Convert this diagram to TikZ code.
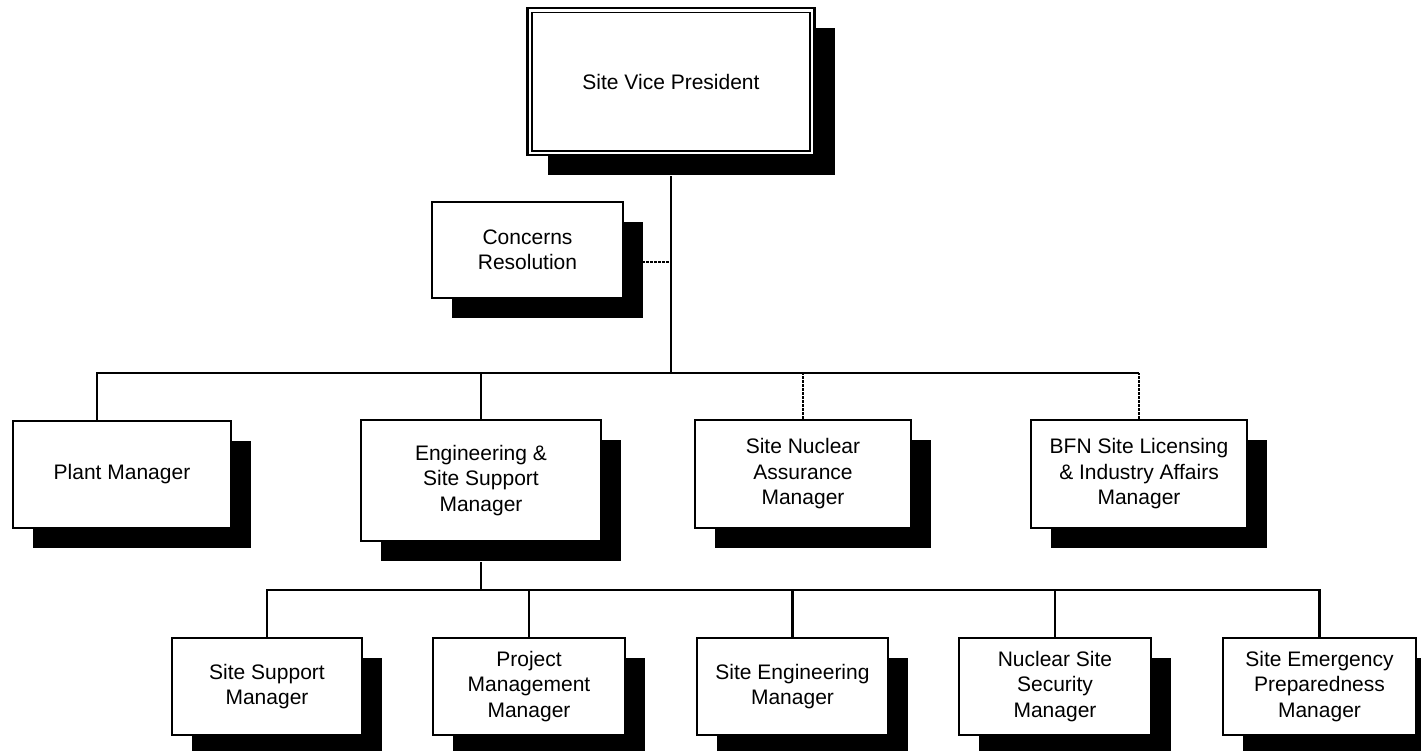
\documentclass[tikz,border=0pt]{standalone}
\usepackage{fontspec}
\setmainfont{Liberation Sans}
\usetikzlibrary{shadows}
\tikzset{
  orgbox/.style={draw=black, line width=2.2pt, fill=white, align=center, inner sep=2pt,
    font=\fontsize{21}{25.5}\selectfont,
    drop shadow={shadow xshift=20pt, shadow yshift=-20pt, opacity=1, fill=black, draw=none}},
  conn/.style={draw=black, line width=2.2pt},
  dashline/.style={draw=black, line width=1.8pt, dash pattern=on 2.5pt off 1.5pt},
}
\begin{document}
\begin{tikzpicture}[x=1pt, y=-1pt]
\useasboundingbox (0,0) rectangle (1421,750);
\clip (0,0) rectangle (1421,750);
\fill[white] (0,0) rectangle (1421,750);

% nodes
\node[orgbox, minimum width=287pt, minimum height=147pt] (vp) at (671,81.5) {Site Vice President};
\draw[line width=1.8pt] ([shift={(5.5pt,-5.5pt)}]vp.north west) rectangle ([shift={(-5.5pt,5.5pt)}]vp.south east);

\node[orgbox, minimum width=191pt, minimum height=96pt] (cr) at (527.5,250) {Concerns\\Resolution};

\node[orgbox, minimum width=218pt, minimum height=107pt] (pm) at (122,474.5) {Plant Manager};
\node[orgbox, minimum width=240pt, minimum height=121pt] (eng) at (481,480.5) {Engineering \&\\Site Support\\Manager};
\node[orgbox, minimum width=216pt, minimum height=108pt] (sna) at (803,474) {Site Nuclear\\Assurance\\Manager};
\node[orgbox, minimum width=216pt, minimum height=108pt] (bfn) at (1139,474) {BFN Site Licensing\\\& Industry Affairs\\Manager};

\node[orgbox, minimum width=190pt, minimum height=97pt] (ss) at (267,686.5) {Site Support\\Manager};
\node[orgbox, minimum width=192pt, minimum height=97pt] (prj) at (529,686.5) {Project\\Management\\Manager};
\node[orgbox, minimum width=191pt, minimum height=97pt] (se) at (792.5,686.5) {Site Engineering\\Manager};
\node[orgbox, minimum width=192pt, minimum height=97pt] (nss) at (1055,686.5) {Nuclear Site\\Security\\Manager};
\node[orgbox, minimum width=193pt, minimum height=97pt] (sep) at (1319.5,686.5) {Site Emergency\\Preparedness\\Manager};

% bus coordinates
\coordinate (b1) at (671,373);
\coordinate (b2) at (481,590);
\coordinate (crlink) at (642,262);

% level 1 connectors
\draw[conn] ([yshift=-20pt]vp.south) -- (b1);
\draw[dashline] (crlink) -- (crlink -| b1);
\draw[conn] ([xshift=-25pt]pm.north) |- (b1);
\draw[conn] (b1) -- (bfn.north |- b1);
\draw[conn] (eng.north) -- (eng.north |- b1);
\draw[dashline] (sna.north) -- (sna.north |- b1);
\draw[dashline] (bfn.north) -- (bfn.north |- b1);

% level 2 connectors
\draw[conn] ([yshift=-20pt]eng.south) -- (b2);
\draw[conn] (ss.north) |- (sep.north |- b2) -- (sep.north);
\draw[conn] (prj.north) -- (prj.north |- b2);
\draw[conn] (se.north) -- (se.north |- b2);
\draw[conn] (nss.north) -- (nss.north |- b2);
\end{tikzpicture}
\end{document}
